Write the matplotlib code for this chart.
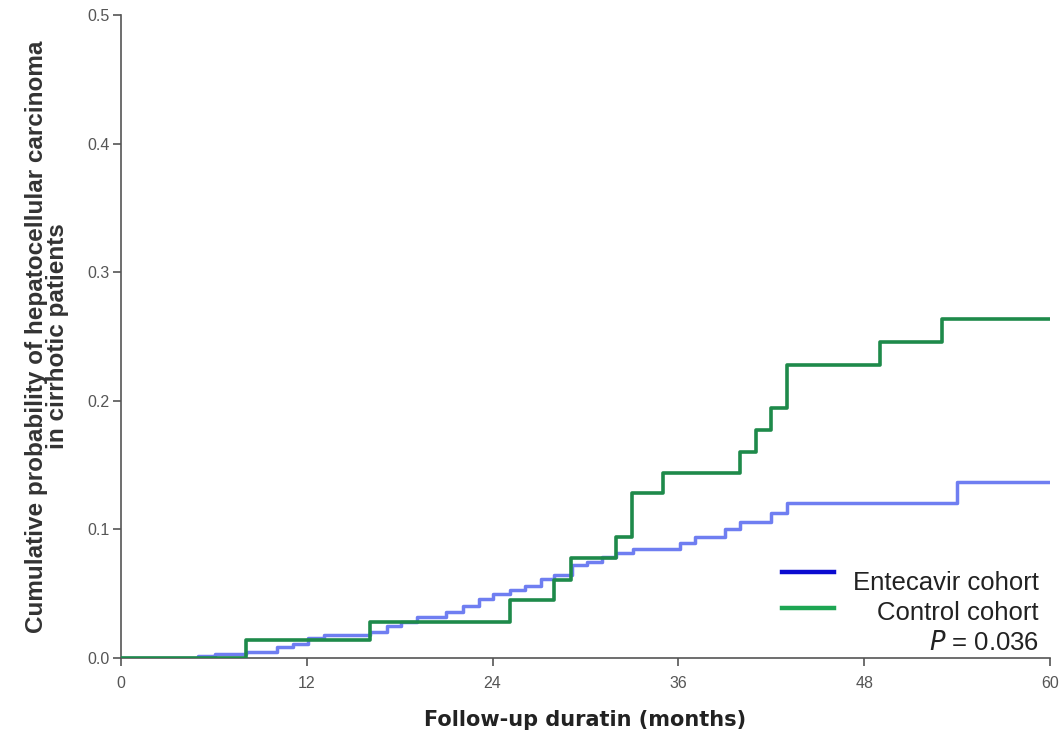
import matplotlib.pyplot as plt
from matplotlib.lines import Line2D

# Kaplan-Meier style cumulative incidence (step functions)
ctrl_t = [0, 8.1, 16.1, 25.1, 28.0, 29.05, 32.0, 33.0, 35.0, 40.0, 41.0, 42.0, 43.0, 49.0, 53.0, 60]
ctrl_p = [0, 0.0135, 0.028, 0.045, 0.0605, 0.0773, 0.094, 0.128, 0.1435, 0.160, 0.177, 0.194,
          0.228, 0.2455, 0.2634, 0.2634]

etv_t = [0, 5.0, 6.1, 8.1, 10.1, 11.1, 12.1, 13.1, 16.1, 17.2, 18.1, 19.1, 21.0, 22.1, 23.1,
         24.05, 25.1, 26.1, 27.1, 28.0, 29.1, 30.1, 31.05, 32.0, 33.05, 36.1, 37.1, 39.0, 40.0,
         42.0, 43.0, 54.0, 60]
etv_p = [0, 0.001, 0.003, 0.0047, 0.0086, 0.011, 0.015, 0.0177, 0.0198, 0.0245, 0.028, 0.032,
         0.0355, 0.040, 0.0457, 0.0496, 0.0527, 0.0558, 0.0612, 0.0644, 0.0721, 0.0747, 0.078,
         0.0812, 0.0844, 0.089, 0.094, 0.0999, 0.1058, 0.1124, 0.120, 0.137, 0.137]

xticks = [0, 12, 24, 36, 48, 60]
yticks = [0.0, 0.1, 0.2, 0.3, 0.4, 0.5]
labels = ["Entecavir cohort", "Control cohort"]

fig = plt.figure(figsize=(10.61, 7.39), dpi=100)
ax = fig.add_axes([0.114, 0.110, 0.8756, 0.8697])

ax.step(etv_t, etv_p, where='post', color='#5b6cf0', lw=2.5, alpha=0.88, zorder=2)
ax.step(ctrl_t, ctrl_p, where='post', color='#1e8a4a', lw=2.6, zorder=3)

ax.set_xlim(0, 60)
ax.set_ylim(0, 0.5)
ax.set_xticks(xticks)
ax.set_yticks(yticks)
ax.set_xticklabels([str(v) for v in xticks])
ax.set_yticklabels([f"{v:.1f}" for v in yticks])

for s in ['top', 'right']:
    ax.spines[s].set_visible(False)
for s in ['left', 'bottom']:
    ax.spines[s].set_color('#555555')
    ax.spines[s].set_linewidth(1.2)
ax.tick_params(direction='out', length=6, width=1.2, color='#555555',
               labelsize=11.5, labelcolor='#555555')
ax.tick_params(axis='x', pad=7)
ax.tick_params(axis='y', pad=2)
for t in ax.get_xticklabels() + ax.get_yticklabels():
    t.set_family('Liberation Sans')

ax.set_ylabel("Cumulative probability of hepatocellular carcinoma\nin cirrhotic patients",
              fontsize=17.5, fontweight='bold', family='Liberation Sans', color='#333333',
              labelpad=13, linespacing=0.92)
ax.set_xlabel("Follow-up duratin (months)", fontsize=15, fontweight='bold',
              family='DejaVu Sans', color='#222222', labelpad=14)

# legend drawn by hand: handles on the left, text right-aligned
tr = ax.transAxes
ax.add_line(Line2D([0.712, 0.768], [0.134, 0.134], transform=tr, color='#0a0ad0', lw=3.2))
ax.add_line(Line2D([0.712, 0.768], [0.078, 0.078], transform=tr, color='#1da653', lw=3.2))
ax.text(0.988, 0.116, labels[0], transform=tr, ha='right', va='center',
        fontsize=18.5, family='Liberation Sans', color='#222222')
ax.text(0.988, 0.069, labels[1], transform=tr, ha='right', va='center',
        fontsize=18.5, family='Liberation Sans', color='#222222')
ax.text(0.988, 0.023, "$\\it{P}$ = 0.036", transform=tr, ha='right', va='center',
        fontsize=18.5, family='Liberation Sans', color='#222222')

fig.savefig('out.png', dpi=100)
